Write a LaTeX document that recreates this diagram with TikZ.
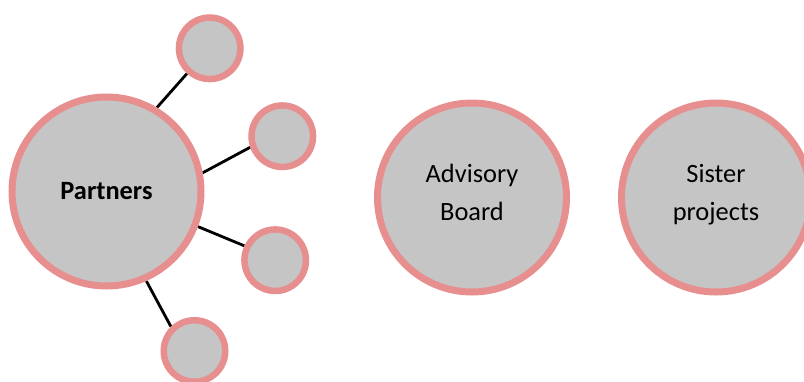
\documentclass[tikz,border=0pt]{standalone}
\usepackage{fontspec}
\setmainfont{Carlito}
\usetikzlibrary{backgrounds}
\definecolor{ringpink}{RGB}{231,142,142}
\definecolor{discgray}{RGB}{197,197,197}
\newcommand{\twolines}[2]{\raisebox{4pt}[\height][\depth]{\begin{tabular}{@{}c@{}}#1\\#2\end{tabular}}}
\tikzset{
  bigdisc/.style={circle, draw=ringpink, fill=discgray, line width=7pt,
    minimum size=189pt, inner sep=0pt, align=center,
    font=\fontsize{26.4}{38}\selectfont},
  smalldisc/.style={circle, draw=ringpink, fill=discgray, line width=6.5pt,
    minimum size=61.5pt, inner sep=0pt},
  link/.style={draw=black, line width=2.8pt}
}
\begin{document}
\begin{tikzpicture}[x=1pt, y=-1pt]
  \useasboundingbox (0,0) rectangle (804,381);

  % hub with its satellites
  \node[bigdisc, font=\fontsize{26.4}{38}\selectfont\bfseries] (partners) at (106.5,191.5) {Partners};
  \node[smalldisc] (p1) at (209.7,48.3) {};
  \node[smalldisc] (p2) at (282.3,136.2) {};
  \node[smalldisc] (p3) at (275.2,260.2) {};
  \node[smalldisc] (p4) at (194.5,351) {};

  % stand-alone groups
  \node[bigdisc] (board) at (472,197.5) {\twolines{Advisory}{Board}};
  \node[bigdisc] (sister) at (716,197.5) {\twolines{Sister}{projects}};

  % spokes behind the discs
  \begin{scope}[on background layer]
    \draw[link] (partners.59.5) -- (p1.228.7);
    \draw[link] (partners.11.6) -- (p2.199);
    \draw[link] (partners.-21.1) -- (p3.155.9);
    \draw[link] (partners.-66.6) -- (p4.134.4);
  \end{scope}
\end{tikzpicture}
\end{document}
